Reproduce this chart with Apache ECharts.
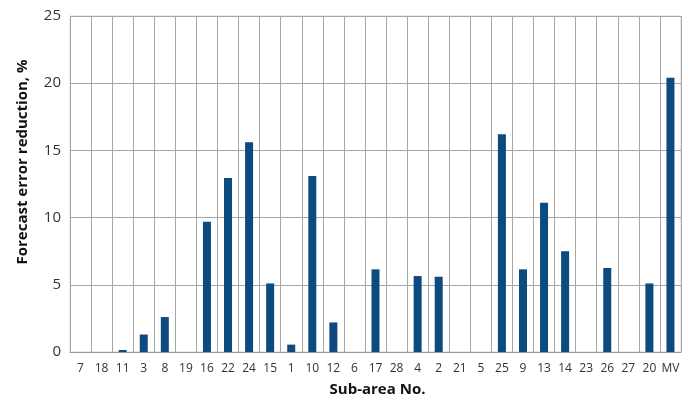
<!DOCTYPE html>
<html>
<head>
<meta charset="utf-8">
<script src="https://cdn.jsdelivr.net/npm/echarts@6/dist/echarts.min.js"></script>
<style>
html,body{margin:0;padding:0;background:#fff;}
#chart{width:697px;height:399px;}
</style>
</head>
<body>
<div id="chart"></div>
<script>
"use strict"
// sub-areas in the order shown on the x axis
var subAreas = ['7', '18', '11', '3', '8', '19', '16', '22', '24', '15', '1', '10', '12', '6',
    '17', '28', '4', '2', '21', '5', '25', '9', '13', '14', '23', '26', '27', '20', 'MV'];
// forecast error reduction, %
var reduction = [0, 0, 0.15, 1.3, 2.6, 0, 9.7, 12.95, 15.6, 5.1, 0.55, 13.1, 2.2, 0,
    6.15, 0, 5.65, 5.6, 0, 0, 16.2, 6.15, 11.1, 7.5, 0, 6.25, 0, 5.1, 20.4];
var yTicks = [0, 5, 10, 15, 20, 25];

var font = '"Open Sans", sans-serif';

var option = {
    backgroundColor: '#fff',
    animation: false,
    grid: {
        left: 70,
        right: 16,
        top: 16,
        bottom: 47,
        outerBoundsMode: 'none',
        containLabel: false,
        show: true,
        borderColor: '#d4d4d4',
        borderWidth: 1
    },
    xAxis: {
        type: 'category',
        data: subAreas,
        name: 'Sub-area No.',
        nameLocation: 'middle',
        nameGap: 30,
        nameTextStyle: {
            fontFamily: font,
            fontSize: 15,
            fontWeight: 'bold',
            color: '#111',
            padding: [0, 0, 0, 4]
        },
        axisLine: { lineStyle: { color: '#9a9a9a', width: 1 } },
        axisTick: { show: false },
        splitLine: { show: true, lineStyle: { color: '#a6a6a6', width: 1 } },
        axisLabel: {
            interval: 0,
            margin: 11,
            fontFamily: font,
            fontSize: 12,
            color: '#333'
        }
    },
    yAxis: {
        type: 'value',
        min: yTicks[0],
        max: yTicks[yTicks.length - 1],
        interval: 5,
        name: 'Forecast error reduction, %',
        nameLocation: 'middle',
        nameGap: 40,
        nameTextStyle: {
            fontFamily: font,
            fontSize: 15,
            fontWeight: 'bold',
            color: '#111',
            padding: [0, 0, 0, 44]
        },
        axisLine: { show: false },
        axisTick: { show: false },
        splitLine: { show: true, lineStyle: { color: '#a6a6a6', width: 1 } },
        axisLabel: {
            margin: 9,
            fontFamily: font,
            fontSize: 15,
            color: '#333'
        }
    },
    series: [{
        type: 'bar',
        data: reduction,
        barWidth: 8,
        itemStyle: { color: '#0d4a80' }
    }]
};

var chart = echarts.init(document.getElementById('chart'));
chart.setOption(option);
</script>
</body>
</html>
